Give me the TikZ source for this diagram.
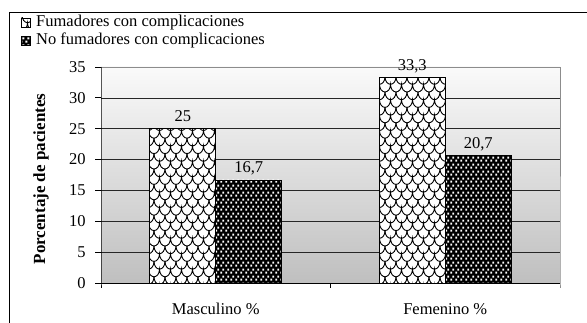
\documentclass[tikz,border=0pt]{standalone}
\usepackage{fontspec}
\setmainfont{Liberation Serif}
\usetikzlibrary{patterns,positioning}
\definecolor{gridc}{HTML}{262626}
\definecolor{framec}{HTML}{8C8C8C}

\pgfdeclarepatternformonly{scales}{\pgfqpoint{-1pt}{-1pt}}{\pgfqpoint{12pt}{16.4pt}}{\pgfqpoint{11pt}{15.4pt}}{
  \pgfsetlinewidth{0.9pt}
  \pgfpathmoveto{\pgfqpoint{0pt}{15.4pt}}
  \pgfpathcurveto{\pgfqpoint{0pt}{11pt}}{\pgfqpoint{2.5pt}{7.7pt}}{\pgfqpoint{5.5pt}{7.7pt}}
  \pgfpathcurveto{\pgfqpoint{8.5pt}{7.7pt}}{\pgfqpoint{11pt}{11pt}}{\pgfqpoint{11pt}{15.4pt}}
  \pgfpathmoveto{\pgfqpoint{0pt}{0pt}}
  \pgfpathcurveto{\pgfqpoint{3pt}{0pt}}{\pgfqpoint{5.5pt}{3.3pt}}{\pgfqpoint{5.5pt}{7.7pt}}
  \pgfpathcurveto{\pgfqpoint{5.5pt}{3.3pt}}{\pgfqpoint{8pt}{0pt}}{\pgfqpoint{11pt}{0pt}}
  \pgfusepath{stroke}}

\pgfdeclarepatternformonly{whitedots}{\pgfqpoint{0pt}{0pt}}{\pgfqpoint{5pt}{7pt}}{\pgfqpoint{5pt}{7pt}}{
  \pgfpathrectangle{\pgfqpoint{0.3pt}{0.3pt}}{\pgfqpoint{2.3pt}{2.3pt}}
  \pgfpathrectangle{\pgfqpoint{2.7pt}{3.8pt}}{\pgfqpoint{2.3pt}{2.3pt}}
  \pgfusepath{fill}}

\begin{document}
\begin{tikzpicture}[x=1pt,y=1pt,font=\fontsize{16.5}{19}\selectfont,
    fum/.style={draw=black,line width=0.8pt,preaction={fill=white},pattern=scales},
    nofum/.style={draw=black,line width=0.8pt,preaction={fill=black},pattern=whitedots,pattern color=white},
    gridline/.style={draw=gridc,line width=0.7pt},
    vlab/.style={anchor=base,yshift=7pt,inner sep=0pt},
    ytick/.style={anchor=east,inner sep=1pt,xshift=-8pt},
    cat/.style={anchor=base,inner sep=0pt},
    legbox/.style={minimum size=9pt,inner sep=0pt,line width=0.6pt}]
  \useasboundingbox (0,0) rectangle (587,323);

  % outer frame
  \draw[line width=0.9pt] (587,311) -- (9,311) -- (9,0);

  % legend
  \path
  (26,300.5) node[legbox,fum] (k1) {}
  (26,282.5) node[legbox,nofum] (k2) {}
  (36,296) node[anchor=base west,inner sep=0pt] (l1) {Fumadores con complicaciones}
  (36,278) node[anchor=base west,inner sep=0pt] (l2) {No fumadores con complicaciones}
  ;

  % axis title
  \node[rotate=90,font=\fontsize{17}{19}\bfseries] (ytit) at (41,144) {Porcentaje de pacientes};

  \begin{scope}[shift={(101,40)},y=6.1714pt]
    \shade[top color=black!2,bottom color=black!25] (0,0) rectangle (459,35);
    \foreach \v in {5,10,...,30}
      \draw[gridline] (0,\v) -- (459,\v);
    \draw[framec,line width=0.8pt] (0,35) -- (459,35) -- (459,0) -- ++(0,-5pt);

    % bars
    \draw[fum] (48.75,0) rectangle (114.75,25);
    \draw[nofum] (114.75,0) rectangle (180.75,16.7);
    \draw[fum] (278.25,0) rectangle (344.25,33.3);
    \draw[nofum] (344.25,0) rectangle (410.25,20.7);

    \path
    (81.75,25) node[vlab] (m1) {25}
    (147.75,16.7) node[vlab] (m2) {16,7}
    (311.25,33.3) node[vlab] (f1) {33,3}
    (377.25,20.7) node[vlab] (f2) {20,7}
    (114.75,-32pt) node[cat] (masc) {Masculino \%}
    (344.25,-32pt) node[cat] (fem) {Femenino \%}
    ;

    % axes
    \draw[line width=0.8pt] (0,35) -- (0,0) -- ++(0,-5pt);
    \draw[line width=0.8pt] (0,0) -- (459,0);
    \draw[line width=0.8pt] (229.5,0) -- ++(0,-5pt);
    \foreach \v in {0,5,...,35}
      \draw[line width=0.8pt] (0,\v) -- ++(-6pt,0) node[ytick] (t\v) {\v};
  \end{scope}
\end{tikzpicture}
\end{document}
